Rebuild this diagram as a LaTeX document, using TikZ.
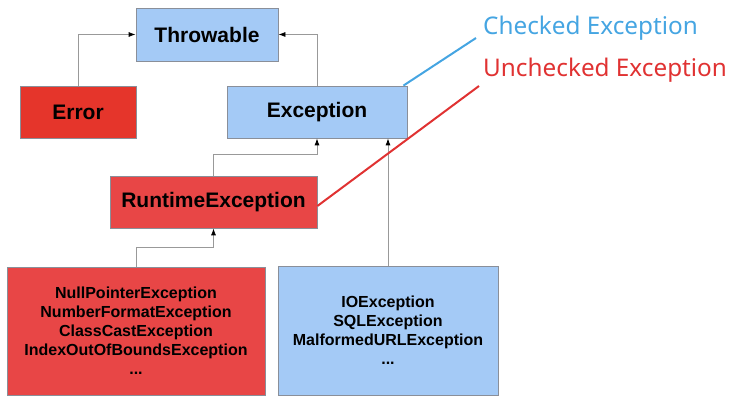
\documentclass[tikz,border=0pt]{standalone}
\usepackage{fontspec}
\setmainfont{Liberation Sans}
\newfontfamily\labelfont{Noto Sans}
\usepackage{tikz}
\usetikzlibrary{arrows.meta,calc}

\definecolor{chkfill}{HTML}{A4CAF6}
\definecolor{errfill}{HTML}{E5352B}
\definecolor{rtfill}{HTML}{E84646}
\definecolor{boxline}{HTML}{8A8F99}
\definecolor{chkline}{HTML}{45A5E2}
\definecolor{unchkline}{HTML}{E03232}

\tikzset{
	cls/.style={draw=boxline, line width=.8pt, inner sep=0pt, align=center,
		font=\fontsize{21}{24}\selectfont\bfseries},
	lst/.style={cls, font=\fontsize{16}{19}\selectfont\bfseries},
	inh/.style={draw=black!40, line width=.8pt, -{Latex[length=7pt,width=5pt,color=black]}},
	lbl/.style={anchor=west, inner sep=0pt, font=\labelfont\fontsize{24.3}{27}\selectfont}
}

\begin{document}
\begin{tikzpicture}[x=1pt,y=-1pt]
		\useasboundingbox (0,0) rectangle (750,403);
		
		\node[cls, fill=chkfill, minimum width=142, minimum height=53] (throwable) at (207,34.5) {Throwable};
		\node[cls, fill=errfill, minimum width=116, minimum height=52] (error) at (78,112) {Error};
		\node[cls, fill=chkfill, minimum width=180, minimum height=52] (exception) at (317,112) {Exception};
		\node[cls, fill=rtfill, minimum width=207, minimum height=52] (runtime) at (213.5,202) {RuntimeException};
		
		\node[lst, fill=rtfill, minimum width=258, minimum height=128] (unchklist) at (136,331)
			{NullPointerException\\NumberFormatException\\ClassCastException\\IndexOutOfBoundsException\\...};
		\node[lst, fill=chkfill, minimum width=220, minimum height=129] (chklist) at (388,330.5)
			{IOException\\SQLException\\MalformedURLException\\...};
		
		\draw[inh] (error.north) |- (throwable.west);
		\draw[inh] (exception.north) |- (throwable.east);
		\draw[inh] (runtime.north) -- ++(0,-21) -| (exception.south);
		\draw[inh] (unchklist.north) -- ++(0,-19) -| (runtime.south);
		\draw[inh] (chklist.north) -- (chklist.north |- exception.south);
		
		\node[lbl, text=chkline] (checked) at (483,28) {Checked Exception};
		\node[lbl, text=unchkline] (unchecked) at (483,70) {Unchecked Exception};
		\coordinate (chktip) at (476,38);
		\coordinate (unchktip) at (479,86);
		\draw[chkline, line width=2pt] ([xshift=-4]exception.north east) -- (chktip);
		\draw[unchkline, line width=2pt] ([yshift=-4]runtime.east) -- (unchktip);
\end{tikzpicture}
\end{document}
